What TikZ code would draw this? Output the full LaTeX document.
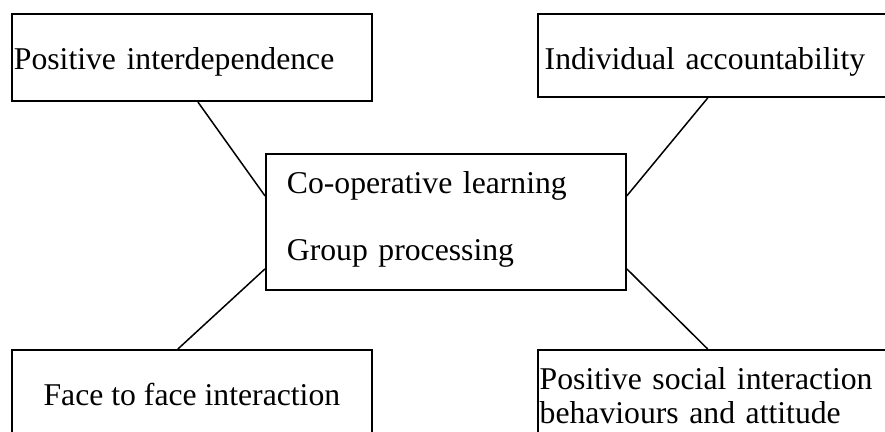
\documentclass[tikz,border=0pt]{standalone}
\usepackage{fontspec}
\setmainfont{Liberation Serif}
\usetikzlibrary{positioning}

\begin{document}
\begin{tikzpicture}[x=1pt,y=-1pt,
  box/.style={draw,line width=1.8pt,inner ysep=0pt,font=\fontsize{31.7pt}{34.5pt}\selectfont},
  link/.style={line width=1.5pt}]
\useasboundingbox(0,0)rectangle(885,431);
\clip(0,0)rectangle(885,431);
\node(co)[box,anchor=north west,minimum width=360pt,minimum height=136pt,inner xsep=21pt,text width=318pt,align=left,
  font=\fontsize{31.7pt}{67pt}\selectfont,text height=20pt,text depth=76.6pt] at (265,153)
  {Co-operative learning\\Group processing};
\node(tl)[box,above=51pt of co.north west,xshift=-254pt,anchor=south west,minimum width=360pt,minimum height=87pt,
  inner xsep=2pt,text width=356pt,align=left,text height=25pt,text depth=2pt]{Positive interdependence};
\node(tr)[box,right=164pt of tl.north east,anchor=north west,minimum width=349pt,minimum height=83pt,
  inner xsep=7pt,text width=335pt,align=left,text height=28pt,text depth=1pt]{Individual accountability};
\node(bl)[box,below=247pt of tl.south west,anchor=north west,minimum width=360pt,minimum height=120pt,
  text height=20pt,text depth=28pt]{Face to face interaction};
\node(br)[box,below=251pt of tr.south west,anchor=north west,minimum width=349pt,minimum height=120pt,
  inner xsep=2pt,text width=345pt,align=left,text height=20pt,text depth=61.4pt]
  {Positive social interaction\\behaviours and attitude};
\draw[link]([xshift=6pt]tl.south)--([yshift=26pt]co.west);
\draw[link]([xshift=-4.5pt]tr.south)--([yshift=26pt]co.east);
\draw[link]([xshift=-14pt]bl.north)--([yshift=-47pt]co.west);
\draw[link]([xshift=-4.5pt]br.north)--([yshift=-47pt]co.east);
\end{tikzpicture}
\end{document}
